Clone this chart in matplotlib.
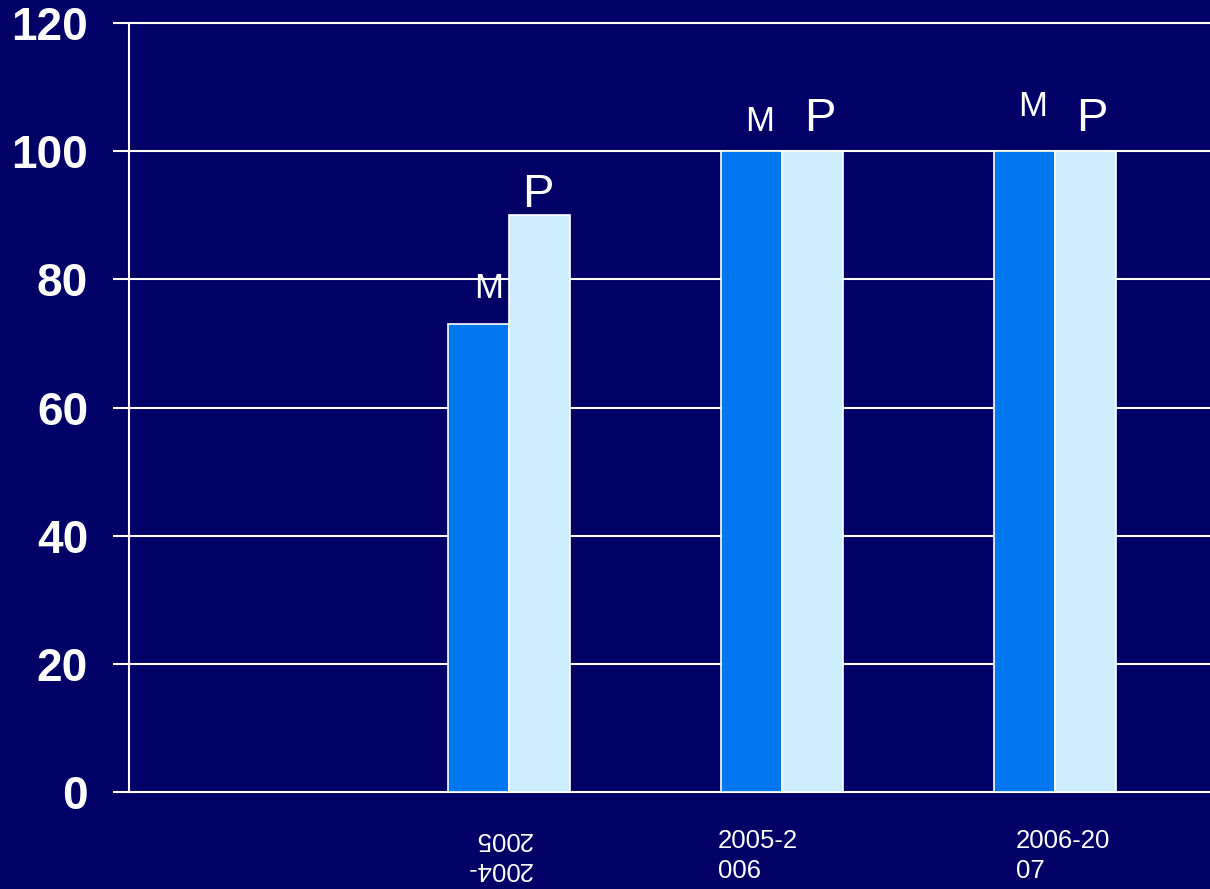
import matplotlib
matplotlib.use('Agg')
import matplotlib.pyplot as plt
import numpy as np

categories = ['2004-\n2005', '2005-2\n006', '2006-20\n07']
m_values = [73, 100, 100]
p_values = [90, 100, 100]
series_names = ['M', 'P']
yticks = [0, 20, 40, 60, 80, 100, 120]

BG = '#000066'
C_M = '#0077EE'
C_P = '#CCEEFF'

plt.rcParams['font.family'] = ['Liberation Sans', 'DejaVu Sans']
W, H = 1210, 889
fig = plt.figure(figsize=(W / 100, H / 100), dpi=100, facecolor=BG)
ax = fig.add_axes([129 / W, 1 - 792 / H, 1 - 129 / W, (792 - 23) / H])
ax.set_facecolor(BG)

x = np.arange(1, len(categories) + 1)
w = 0.225
bm = ax.bar(x, m_values, width=-w, align='edge', color=C_M, edgecolor='white', linewidth=1.2, zorder=3)
bp = ax.bar(x, p_values, width=w, align='edge', color=C_P, edgecolor='white', linewidth=1.2, zorder=3)

ax.set_xlim(-0.392, 3.568)
ax.set_ylim(0, 120)
ax.set_yticks(yticks)
ax.set_xticks([])
ax.yaxis.grid(True, color='white', linewidth=1.5)
ax.set_axisbelow(True)
for gl in ax.get_ygridlines():
    gl.set_clip_on(False)
for s in ['top', 'right', 'bottom']:
    ax.spines[s].set_visible(False)
ax.spines['left'].set_color('white')
ax.spines['left'].set_linewidth(1.5)
ax.tick_params(axis='y', direction='out', length=11.5, width=1.5, color='white',
               pad=18, labelsize=33, labelcolor='white')
for t in ax.get_yticklabels():
    t.set_fontweight('bold')

# series labels above bars (pixel offsets: dx, dy)
m_offsets = [(10, 26), (8, 20), (8, 35)]
p_offsets = [(-2, 8), (7, 20), (6, 20)]
for bars, name, offs, fs in [(bm, series_names[0], m_offsets, 25), (bp, series_names[1], p_offsets, 34)]:
    for b, (dx, dy) in zip(bars, offs):
        cx = b.get_x() + b.get_width() / 2
        ax.annotate(name, xy=(cx, b.get_height()), xytext=(dx, dy), textcoords='offset pixels',
                    ha='center', va='baseline', color='white', fontsize=fs, annotation_clip=False)

# category labels
for i, (xi, lab) in enumerate(zip(x, categories)):
    if i == 0:
        ax.annotate(lab, xy=(xi, 0), xycoords=('data', 'axes fraction'), xytext=(-10, -62),
                    textcoords='offset pixels', ha='center', va='center', rotation=180,
                    multialignment='left', color='white', fontsize=18.5, linespacing=1.3,
                    annotation_clip=False)
    else:
        dx = [None, -64, -39][i]
        ax.annotate(lab, xy=(xi, 0), xycoords=('data', 'axes fraction'), xytext=(dx, -37),
                    textcoords='offset pixels', ha='left', va='top',
                    color='white', fontsize=18.5, linespacing=1.3, annotation_clip=False)

fig.savefig('out.png', dpi=100, facecolor=BG)
